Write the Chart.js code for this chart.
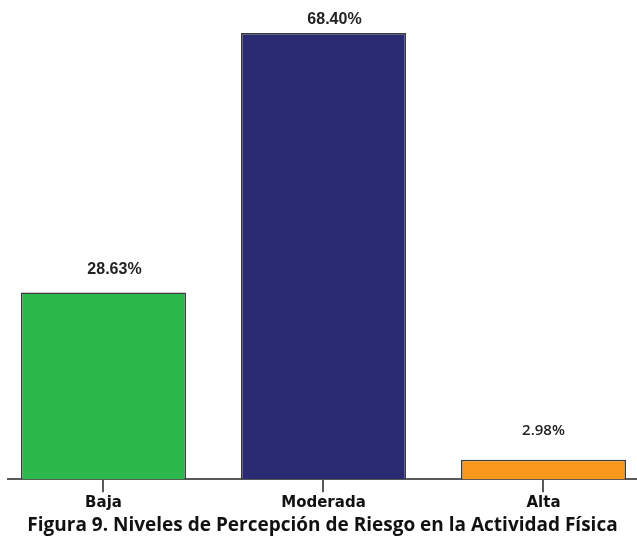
<!DOCTYPE html>
<html lang="es">
<head>
<meta charset="utf-8">
<title>Niveles de Percepción de Riesgo en la Actividad Física</title>
<script src="https://cdn.jsdelivr.net/npm/chart.js@4/dist/chart.umd.min.js"></script>
<style>
  html, body { margin: 0; padding: 0; background: #ffffff; }
  #wrap { width: 637px; height: 537px; position: relative; }
</style>
</head>
<body>
<div id="wrap"><canvas id="chart" width="637" height="537"></canvas></div>
<script>
// Categories and percentages
const categories = ['Baja', 'Moderada', 'Alta'];
const percentages = [28.63, 68.40, 2.98];
const valueLabels = ['28.63%', '68.40%', '2.98%'];
const titleText = 'Figura 9. Niveles de Percepción de Riesgo en la Actividad Física';

// Styling
const barColors = ['#2db84b', '#2a2b73', '#f7981d'];
const labelFonts = [
  'bold 16px "Liberation Sans", Arial, sans-serif',
  'bold 16px "Liberation Sans", Arial, sans-serif',
  '600 15px "Open Sans", sans-serif'
];
const labelShift = [{ dx: 11, dy: 23 }, { dx: 11, dy: 13 }, { dx: 0, dy: 29 }];

// Value labels above each bar
const valueLabelPlugin = {
  id: 'valueLabels',
  afterDatasetsDraw(chart) {
    const ctx = chart.ctx;
    const meta = chart.getDatasetMeta(0);
    ctx.save();
    ctx.textAlign = 'center';
    ctx.textBaseline = 'middle';
    ctx.fillStyle = '#222222';
    meta.data.forEach((bar, i) => {
      ctx.font = labelFonts[i];
      ctx.fillText(valueLabels[i], bar.x + labelShift[i].dx, bar.y - labelShift[i].dy);
    });
    ctx.restore();
  }
};

new Chart(document.getElementById('chart'), {
  type: 'bar',
  data: {
    datasets: [{
      data: categories.map((c, i) => ({ x: i, y: percentages[i] })),
      backgroundColor: barColors,
      borderColor: '#3a3a3a',
      borderWidth: 1.5,
      borderSkipped: 'bottom',
      categoryPercentage: 1,
      barPercentage: 0.75
    }]
  },
  options: {
    responsive: false,
    animation: false,
    layout: { padding: { left: 8, right: 0, top: 0, bottom: 0 } },
    plugins: {
      legend: { display: false },
      tooltip: { enabled: false },
      title: {
        display: true,
        position: 'bottom',
        text: titleText,
        color: '#111111',
        font: { family: '"Open Sans", sans-serif', size: 19, weight: 'bold' },
        padding: { top: 0, bottom: 0 }
      }
    },
    scales: {
      x: {
        type: 'linear',
        offset: false,
        min: -0.434,
        max: 2.425,
        afterBuildTicks(scale) {
          scale.ticks = categories.map((c, i) => ({ value: i }));
        },
        ticks: {
          callback: (v) => categories[v],
          color: '#111111',
          font: { family: '"DejaVu Sans", sans-serif', size: 15, weight: 'bold' },
          padding: 2,
          maxRotation: 0,
          autoSkip: false
        },
        grid: {
          offset: false,
          drawOnChartArea: false,
          drawTicks: true,
          tickLength: 13,
          color: '#5a5a5a',
          lineWidth: 2
        },
        border: { display: true, color: '#5a5a5a', width: 2 }
      },
      y: {
        display: false,
        min: 0,
        max: 73.46
      }
    }
  },
  plugins: [valueLabelPlugin]
});
</script>
</body>
</html>
